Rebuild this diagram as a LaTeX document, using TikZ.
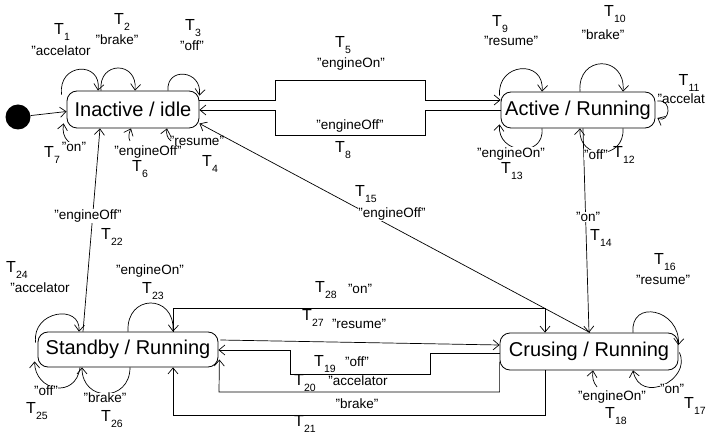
\documentclass[tikz,border=0pt]{standalone}
\usepackage{fontspec}
\setmainfont{Liberation Sans}
\usetikzlibrary{arrows.meta,calc}
\newcommand\Tn[1]{T\kern0.2pt\raisebox{-0.33em}{\fontsize{10.5}{10.5}\selectfont #1}}
\begin{document}
\begin{tikzpicture}[x=1pt,y=-1pt,
  stbox/.style={draw, line width=0.8pt, rounded corners=10pt, inner sep=0pt, font=\fontsize{20}{24}\selectfont},
  tl/.style={font=\fontsize{16}{16}\selectfont, inner sep=0.5pt},
  ql/.style={font=\fontsize{13.5}{13.5}\selectfont, inner sep=0.5pt},
  wb/.style={fill=white},
  conn/.style={line width=0.7pt, -{Straight Barb[length=6pt,width=10pt]}},
]
\useasboundingbox (0,0) rectangle (706,435);

% states
\node[stbox, minimum width=132pt, minimum height=37pt] (inactive) at (133,109.5) {Inactive / idle};
\node[stbox, minimum width=154pt, minimum height=36pt] (active) at (578,110) {Active / Running};
\node[stbox, minimum width=180pt, minimum height=35pt] (standby) at (128,349.5) {Standby / Running};
\node[stbox, minimum width=178pt, minimum height=37pt] (crusing) at (589,351.5) {Crusing / Running};
\node[circle, fill=black, minimum size=25pt, inner sep=0pt] (init) at (18,117) {};

\draw[conn] (init) -- ([yshift=-2pt]inactive.west);

% Inactive loops
\draw[conn] ([xshift=-5pt,yshift=-4pt]inactive.north west) .. controls +(-4,-32) and +(4,-30) .. ([xshift=-35pt]inactive.north);
\draw[conn] ([xshift=-32pt]inactive.north) .. controls +(-3,-30) and +(3,-30) .. ([xshift=2pt]inactive.north);
\draw[conn] ([xshift=35pt]inactive.north) .. controls +(-2,-24) and +(3,-26) .. ([yshift=-5pt]inactive.north east);
\coordinate (c7) at (86,146);
\draw[conn] (c7) .. controls (70,148) and (61,138) .. ([xshift=-3pt,yshift=5pt]inactive.south west);
\coordinate (c6) at (130,141);
\draw[conn] (c6) .. controls (128,137) and (129,133) .. ([xshift=-2pt]inactive.south);
\coordinate (c4) at (171,141);
\draw[conn] (c4) .. controls (167,138) and (166,133) .. ([xshift=34pt]inactive.south);

% Inactive <-> Active
\draw[conn] ([yshift=9.5pt]inactive.east) -| (275,80) -| (425,100) -- ([yshift=10pt]active.west);
\draw[conn] (active.west) -| (425,135) -| (275,110) -- ([yshift=-0.5pt]inactive.east);

% long links
\draw[conn] ([xshift=-45pt]standby.north) -- ([xshift=-33pt]inactive.south);
\draw[conn] ([xshift=1pt]crusing.north) -- ([yshift=-14pt]inactive.east);
\draw[conn] ([xshift=5pt]active.south) -- (crusing.north);

% Active loops
\draw[conn] ([xshift=-1pt,yshift=-4pt]active.north west) .. controls +(-3,-33) and +(3,-33) .. ([xshift=-36pt]active.north);
\draw[conn] ([xshift=2pt]active.north) .. controls +(-3,-37) and +(3,-37) .. ([xshift=45pt]active.north);
\draw[conn] ([xshift=2pt,yshift=9pt]active.east) .. controls +(16,-2) and +(12,6) .. ([xshift=2pt,yshift=-8pt]active.east);
\draw[conn] ([xshift=-36pt]active.south) .. controls +(3,30) and +(-3,30) .. ([xshift=-1pt,yshift=4pt]active.south west);
\draw[conn] ([xshift=45pt]active.south) .. controls +(2,32) and +(-2,32) .. ([xshift=2pt]active.south);

% Standby loops
\draw[conn] ([xshift=-2pt,yshift=7pt]standby.west) .. controls +(-4,-32) and +(2,-28) .. ([xshift=-49pt]standby.north);
\draw[conn] (standby.north) .. controls +(-2,-38) and +(2,-38) .. ([xshift=45pt]standby.north);
\draw[conn] ([xshift=-48pt]standby.south) .. controls +(-4,32) and +(0,30) .. ([xshift=-3pt,yshift=6pt]standby.south west);
\draw[conn] ([xshift=2pt]standby.south) .. controls +(0,35) and +(0,35) .. ([xshift=-46pt]standby.south);

% Crusing loops
\draw[conn] ([xshift=44pt]crusing.north) .. controls +(-3,-34) and +(2,-36) .. ([yshift=6.5pt]crusing.east);
\draw[conn] ([xshift=1pt,yshift=-1pt]crusing.east) .. controls (692,380) and (640,405) .. ([xshift=44pt]crusing.south);
\coordinate (c18) at (597,387);
\draw[conn] (c18) .. controls (593,382) and (592,377) .. ([xshift=4pt]crusing.south);

% Standby <-> Crusing
\draw[conn] ([xshift=45pt]standby.north) |- (545,308) -- ([xshift=-44pt]crusing.north);
\draw[conn] ([xshift=2pt,yshift=9.5pt]standby.east) -- ([yshift=6.5pt]crusing.west);
\draw[conn] ([yshift=-1.5pt]crusing.west) -| (430,374) -| (290,350) -- ([yshift=-0.5pt]standby.east);
\draw[conn] ([yshift=-10pt]crusing.west) |- (219,392) -- ([xshift=1pt,yshift=-10pt]standby.east);
\draw[conn] ([xshift=-44pt]crusing.south) |- (173,415) -- ([xshift=45pt]standby.south);

% labels
\node[tl] (t1) at (62,32) {\Tn{1}};
\node[ql] (q1) at (61,51) {"accelator};
\node[tl] (t2) at (122,22) {\Tn{2}};
\node[ql] (q2) at (117,40) {"brake"};
\node[tl] (t3) at (193,28) {\Tn{3}};
\node[ql] (q3) at (192,46) {"off"};
\node[tl] (t7) at (52,155) {\Tn{7}};
\node[ql,wb] (q7) at (74,147) {"on"};
\node[ql,wb] (q6) at (148,152) {"engineOff"};
\node[tl] (t6) at (140,169) {\Tn{6}};
\node[ql] (q4) at (197,141) {"resume"};
\node[tl] (t4) at (210,164) {\Tn{4}};
\node[tl] (t5) at (343,45) {\Tn{5}};
\node[ql] (q5) at (351,64) {"engineOn"};
\node[ql] (q8) at (350,126) {"engineOff"};
\node[tl] (t8) at (343,150) {\Tn{8}};
\node[tl] (t9) at (500,24) {\Tn{9}};
\node[ql] (q9) at (511,41) {"resume"};
\node[tl] (t10) at (615,14) {\Tn{10}};
\node[ql] (q10) at (603,35) {"brake"};
\node[tl] (t11) at (689,83) {\Tn{11}};
\node[ql,anchor=west] (q11) at (657,99) {"accelat};
\node[ql,wb] (q13) at (511,154) {"engineOn"};
\node[tl] (t13) at (512,171) {\Tn{13}};
\node[ql,wb] (q12) at (596,155) {"off"};
\node[tl] (t12) at (624,155) {\Tn{12}};
\node[tl] (t15) at (366,194) {\Tn{15}};
\node[ql,wb] (q15) at (392,214) {"engineOff"};
\node[ql,wb] (q14) at (588,217) {"on"};
\node[tl] (t14) at (601,238) {\Tn{14}};
\node[tl] (t16) at (665,262) {\Tn{16}};
\node[ql] (q16) at (663,280) {"resume"};
\node[tl] (t28) at (326,290) {\Tn{28}};
\node[ql] (q28) at (360,289) {"on"};
\node[tl] (t27) at (313,318) {\Tn{27}};
\node[ql] (q27) at (359,324) {"resume"};
\node[tl] (t19) at (325,364) {\Tn{19}};
\node[ql] (q19) at (357,362) {"off"};
\node[tl] (t20) at (305,383) {\Tn{20}};
\node[ql] (q20) at (358,381) {"accelator};
\node[ql] (q21) at (357,404) {"brake"};
\node[tl] (t21) at (305,424) {\Tn{21}};
\node[ql,wb] (q18) at (612,397) {"engineOn"};
\node[tl] (t18) at (616,416) {\Tn{18}};
\node[ql,wb] (q17) at (672,389) {"on"};
\node[tl] (t17) at (695,406) {\Tn{17}};
\node[ql,wb] (q22) at (88,216) {"engineOff"};
\node[tl] (t22) at (112,237) {\Tn{22}};
\node[tl] (t24) at (17,270) {\Tn{24}};
\node[ql] (q24) at (40,288) {"accelator};
\node[ql] (q23) at (150,271) {"engineOn"};
\node[tl] (t23) at (153,291) {\Tn{23}};
\node[ql,wb] (q25) at (46,391) {"off"};
\node[tl] (t25) at (37,411) {\Tn{25}};
\node[ql,wb] (q26) at (105,398) {"brake"};
\node[tl] (t26) at (112,419) {\Tn{26}};
\end{tikzpicture}
\end{document}
